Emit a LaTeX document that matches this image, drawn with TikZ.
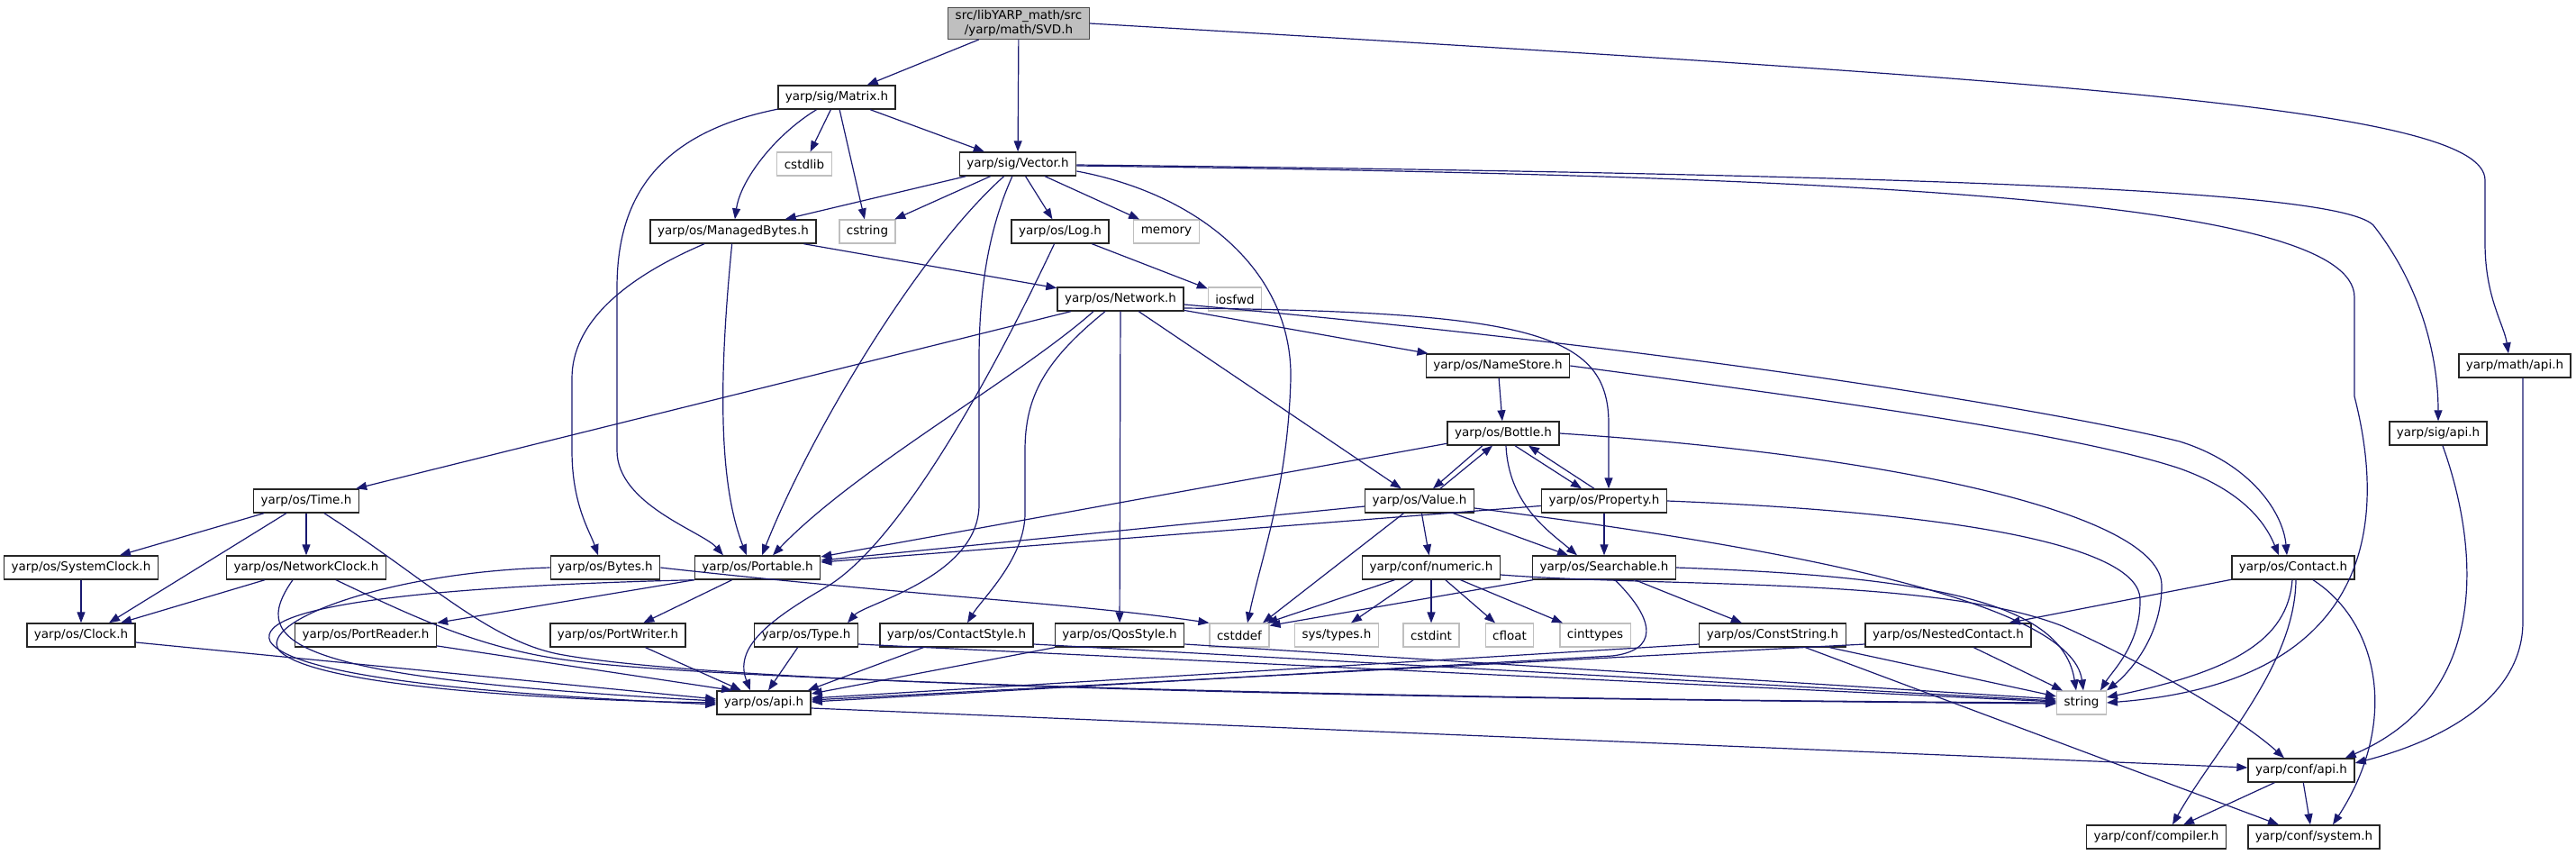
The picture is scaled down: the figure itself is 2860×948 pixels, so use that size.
\documentclass[tikz,border=0pt]{standalone}
\usepackage{fontspec}
\setmainfont{DejaVu Sans}
\usetikzlibrary{arrows.meta}
\definecolor{edgeblue}{HTML}{191970}
\definecolor{sysgray}{HTML}{BFBFBF}

\begin{document}
\begin{tikzpicture}[x=1pt,y=-1pt,
  hdr/.style={draw=black!85, fill=white, line width=1.4pt, minimum height=26pt, inner xsep=8pt, inner ysep=3pt, font=\fontsize{13.5}{15.5}\selectfont},
  syshdr/.style={hdr, draw=sysgray, line width=1.2pt},
  mainhdr/.style={hdr, fill=sysgray, draw=black!70, align=center},
  dep/.style={draw=edgeblue, line width=1.2pt, -{Triangle[length=12pt,width=9pt]}}]
\useasboundingbox (0,0) rectangle (2860,948);

\node[mainhdr] (svd) at (1131,26) {src/libYARP\_math/src\\/yarp/math/SVD.h};
\node[hdr] (matrix) at (929,108) {yarp/sig/Matrix.h};
\node[hdr] (vector) at (1130,182) {yarp/sig/Vector.h};
\node[syshdr] (cstdlib) at (893,182) {cstdlib};
\node[hdr] (managed) at (814,257) {yarp/os/ManagedBytes.h};
\node[syshdr] (cstring) at (963,257) {cstring};
\node[hdr] (log) at (1177,257) {yarp/os/Log.h};
\node[syshdr] (memory) at (1295,257) {memory};
\node[hdr] (network) at (1244,332) {yarp/os/Network.h};
\node[syshdr] (iosfwd) at (1371,332) {iosfwd};
\node[hdr] (namestore) at (1663,406) {yarp/os/NameStore.h};
\node[hdr] (mathapi) at (2792,406) {yarp/math/api.h};
\node[hdr] (bottle) at (1669,481) {yarp/os/Bottle.h};
\node[hdr] (sigapi) at (2707,481) {yarp/sig/api.h};
\node[hdr] (timeh) at (340,556) {yarp/os/Time.h};
\node[hdr] (value) at (1576,556) {yarp/os/Value.h};
\node[hdr] (property) at (1781,556) {yarp/os/Property.h};
\node[hdr] (sysclock) at (90,630) {yarp/os/SystemClock.h};
\node[hdr] (netclock) at (340,630) {yarp/os/NetworkClock.h};
\node[hdr] (bytes) at (672,630) {yarp/os/Bytes.h};
\node[hdr] (portable) at (841,630) {yarp/os/Portable.h};
\node[hdr] (numeric) at (1589,630) {yarp/conf/numeric.h};
\node[hdr] (searchable) at (1781,630) {yarp/os/Searchable.h};
\node[hdr] (contact) at (2546,630) {yarp/os/Contact.h};
\node[hdr] (clock) at (90,705) {yarp/os/Clock.h};
\node[hdr] (portreader) at (406,705) {yarp/os/PortReader.h};
\node[hdr] (portwriter) at (686,705) {yarp/os/PortWriter.h};
\node[hdr] (type) at (895,705) {yarp/os/Type.h};
\node[hdr] (contactstyle) at (1062,705) {yarp/os/ContactStyle.h};
\node[hdr] (qosstyle) at (1243,705) {yarp/os/QosStyle.h};
\node[syshdr] (cstddef) at (1376,705) {cstddef};
\node[syshdr] (systypes) at (1484,705) {sys/types.h};
\node[syshdr] (cstdint) at (1589,705) {cstdint};
\node[syshdr] (cfloat) at (1676,705) {cfloat};
\node[syshdr] (cinttypes) at (1771,705) {cinttypes};
\node[hdr] (conststring) at (1968,705) {yarp/os/ConstString.h};
\node[hdr] (nested) at (2163,705) {yarp/os/NestedContact.h};
\node[hdr] (osapi) at (848,780) {yarp/os/api.h};
\node[syshdr] (string) at (2311,780) {string};
\node[hdr] (confapi) at (2555,855) {yarp/conf/api.h};
\node[hdr] (compiler) at (2394,929) {yarp/conf/compiler.h};
\node[hdr] (system) at (2569,929) {yarp/conf/system.h};

% SVD.h and Matrix.h
\draw[dep] (svd) -- (matrix);
\draw[dep] (svd) -- (vector);
\draw[dep] (svd.east) .. controls (2300,90) and (2759,120) .. (2759,200) -- (2759,270) .. controls (2759,330) and (2780,360) .. ([xshift=-7pt]mathapi.north);
\draw[dep] (matrix) -- (cstdlib);
\draw[dep] (matrix) -- (cstring);
\draw[dep] (matrix) -- (vector);
\draw[dep] (matrix) .. controls (860,150) and (822,200) .. (managed);
\draw[dep] (matrix) .. controls (720,150) and (685,230) .. (685,320) -- (685,500) .. controls (685,560) and (780,590) .. ([xshift=-38pt]portable.north);

% Vector.h
\draw[dep] (vector) -- (managed);
\draw[dep] (vector) -- (cstring);
\draw[dep] (vector) -- (log);
\draw[dep] (vector) -- (memory);
\draw[dep] (vector) .. controls (1020,280) and (900,480) .. ([xshift=5pt]portable.north);
\draw[dep] (vector) .. controls (1095,260) and (1087,330) .. (1087,400) -- (1087,560) .. controls (1087,640) and (960,670) .. ([xshift=-12pt]type.north east);
\draw[dep] ([yshift=-8pt]vector.east) .. controls (1330,215) and (1435,300) .. (1433,420) .. controls (1430,540) and (1400,620) .. ([xshift=9pt]cstddef.north);
\draw[dep] ([yshift=-2pt]vector.east) .. controls (2050,195) and (2614,220) .. (2614,330) -- (2614,440) .. controls (2660,620) and (2600,760) .. (string.east);
\draw[dep] ([yshift=-1pt]vector.east) .. controls (2250,195) and (2600,215) .. (2635,250) .. controls (2690,320) and (2707,400) .. (sigapi.north);

% ManagedBytes.h and Log.h
\draw[dep] (managed) .. controls (690,310) and (635,360) .. (635,420) -- (635,500) .. controls (635,560) and (655,590) .. ([xshift=-8pt]bytes.north);
\draw[dep] (managed) .. controls (800,400) and (795,530) .. ([xshift=-12pt]portable.north);
\draw[dep] (managed) -- (network);
\draw[dep] (log) -- (iosfwd);
\draw[dep] (log) .. controls (1100,420) and (1000,600) .. (920,650) .. controls (850,690) and (815,720) .. ([xshift=-15pt]osapi.north);

% Network.h
\draw[dep] (network) -- (timeh);
\draw[dep] ([xshift=-30pt]network.south) .. controls (1130,420) and (950,520) .. ([xshift=17pt]portable.north);
\draw[dep] ([xshift=-17pt]network.south) .. controls (1160,400) and (1138,440) .. (1138,500) -- (1138,570) .. controls (1138,620) and (1090,665) .. ([xshift=12pt]contactstyle.north);
\draw[dep] (network) -- (qosstyle);
\draw[dep] (network) -- (value);
\draw[dep] (network) -- (namestore);
\draw[dep] ([yshift=-10pt]network.east) .. controls (1700,346) and (1786,370) .. (1786,470) -- ([xshift=5pt]property.north);
\draw[dep] ([yshift=-6pt]network.east) .. controls (1900,390) and (2300,460) .. (2420,490) .. controls (2500,515) and (2535,570) .. ([xshift=-7pt]contact.north);
\draw[dep] (namestore.east) .. controls (2000,440) and (2300,480) .. (2420,520) .. controls (2490,545) and (2515,580) .. ([xshift=-16pt]contact.north);
\draw[dep] (namestore) -- (bottle);

% Bottle.h, Value.h, Property.h
\draw[dep] ([xshift=-23pt]bottle.south) -- ([xshift=15pt]value.north);
\draw[dep] ([xshift=23pt]value.north) -- ([xshift=-12pt]bottle.south);
\draw[dep] ([xshift=13pt]bottle.south) -- ([xshift=-25pt]property.north);
\draw[dep] ([xshift=-11pt]property.north) -- ([xshift=28pt]bottle.south);
\draw[dep] ([xshift=3pt]bottle.south) .. controls (1675,560) and (1720,590) .. ([xshift=-30pt]searchable.north);
\draw[dep] (bottle) -- ([yshift=12pt]portable.east);
\draw[dep] (bottle.east) .. controls (2100,505) and (2400,570) .. (2400,650) .. controls (2400,710) and (2360,750) .. (string.north east);
\draw[dep] (value) -- ([yshift=8pt]portable.east);
\draw[dep] (value) -- ([xshift=26pt]cstddef.north);
\draw[dep] (value) -- (numeric);
\draw[dep] (value) -- ([xshift=-40pt]searchable.north);
\draw[dep] ([yshift=-8pt]value.east) .. controls (2000,610) and (2300,670) .. ([xshift=2pt]string.north);
\draw[dep] (property) -- ([yshift=6pt]portable.east);
\draw[dep] (property) -- (searchable);
\draw[dep] (property.east) .. controls (2200,570) and (2375,610) .. (2376,665) .. controls (2377,715) and (2345,745) .. ([xshift=-7pt]string.north east);

% Searchable.h and numeric.h
\draw[dep] (searchable.east) .. controls (2150,640) and (2290,670) .. ([xshift=-6pt]string.north);
\draw[dep] (searchable) -- (conststring);
\draw[dep] (searchable) -- ([yshift=-3pt]cstddef.north east);
\draw[dep] ([xshift=12pt]searchable.south) .. controls (1840,690) and (1840,722) .. (1790,728) -- ([yshift=1pt]osapi.east);
\draw[dep] (numeric) -- ([xshift=-3pt]cstddef.north east);
\draw[dep] (numeric) -- ([xshift=16pt]systypes.north);
\draw[dep] (numeric) -- (cstdint);
\draw[dep] (numeric) -- ([xshift=-16pt]cfloat.north);
\draw[dep] (numeric) -- ([xshift=-36pt]cinttypes.north);
\draw[dep] ([yshift=-8pt]numeric.east) .. controls (1850,652) and (2150,640) .. (2290,695) .. controls (2400,745) and (2490,800) .. ([xshift=-19pt]confapi.north);

% Contact.h and friends
\draw[dep] (contact) -- ([xshift=-25pt]nested.north east);
\draw[dep] (contact) .. controls (2540,710) and (2480,745) .. ([yshift=6pt]string.east);
\draw[dep] ([xshift=3pt]contact.south) .. controls (2548,740) and (2460,830) .. ([xshift=18pt]compiler.north);
\draw[dep] ([xshift=22pt]contact.south) .. controls (2640,690) and (2665,800) .. ([xshift=21pt]system.north);
\draw[dep] (nested) -- ([xshift=-21pt]string.north);
\draw[dep] ([yshift=-10pt]nested.west) -- ([yshift=3pt]osapi.east);
\draw[dep] ([yshift=-10pt]conststring.west) -- ([yshift=5pt]osapi.east);
\draw[dep] (conststring) -- ([yshift=7pt]string.west);
\draw[dep] (conststring) -- ([xshift=-39pt]system.north);

% bottom row into api.h and string
\draw[dep] (contactstyle) -- ([xshift=-4pt]osapi.north east);
\draw[dep] ([yshift=-10pt]contactstyle.east) -- ([yshift=2pt]string.west);
\draw[dep] (qosstyle) -- ([yshift=10pt]osapi.east);
\draw[dep] ([yshift=-10pt]qosstyle.east) -- ([yshift=4pt]string.west);
\draw[dep] (type) -- ([xshift=5pt]osapi.north);
\draw[dep] ([yshift=-10pt]type.east) -- ([yshift=1pt]string.west);
\draw[dep] (timeh) -- ([xshift=43pt]sysclock.north);
\draw[dep] (timeh) -- ([xshift=31pt]clock.north);
\draw[dep] (timeh) -- (netclock);
\draw[dep] ([xshift=20pt]timeh.south) .. controls (470,640) and (540,710) .. (620,726) .. controls (800,760) and (1500,775) .. ([yshift=-1pt]string.west);
\draw[dep] (netclock) -- ([xshift=44pt]clock.north);
\draw[dep] ([xshift=33pt]netclock.south) .. controls (470,690) and (540,722) .. (640,734) .. controls (800,755) and (1500,776) .. (string.west);
\draw[dep] ([xshift=-15pt]netclock.south) .. controls (275,715) and (320,752) .. ([yshift=2pt]osapi.west);
\draw[dep] (bytes.west) .. controls (430,635) and (285,690) .. (310,722) .. controls (350,765) and (650,778) .. (osapi.west);
\draw[dep] (bytes.east) .. controls (1000,660) and (1200,670) .. (cstddef.north west);
\draw[dep] (portable.south west) .. controls (500,650) and (280,670) .. (300,712) .. controls (330,760) and (650,775) .. ([yshift=-2pt]osapi.west);
\draw[dep] (portable.south west) -- (portreader.north east);
\draw[dep] (portable) -- (portwriter);
\draw[dep] (sysclock) -- (clock);
\draw[dep] ([yshift=-8pt]clock.east) -- ([yshift=4pt]osapi.west);
\draw[dep] (portreader) -- ([xshift=-35pt]osapi.north);
\draw[dep] (portwriter) -- ([xshift=-25pt]osapi.north);

% api headers
\draw[dep] ([yshift=-6pt]osapi.east) -- ([yshift=3pt]confapi.west);
\draw[dep] (sigapi) .. controls (2750,600) and (2770,770) .. ([xshift=-11pt]confapi.north east);
\draw[dep] ([xshift=9pt]mathapi.south) -- (2801,690) .. controls (2801,780) and (2700,825) .. ([yshift=8pt]confapi.east);
\draw[dep] (confapi) -- ([xshift=30pt]compiler.north);
\draw[dep] (confapi) -- ([xshift=-4pt]system.north);
\end{tikzpicture}
\end{document}
